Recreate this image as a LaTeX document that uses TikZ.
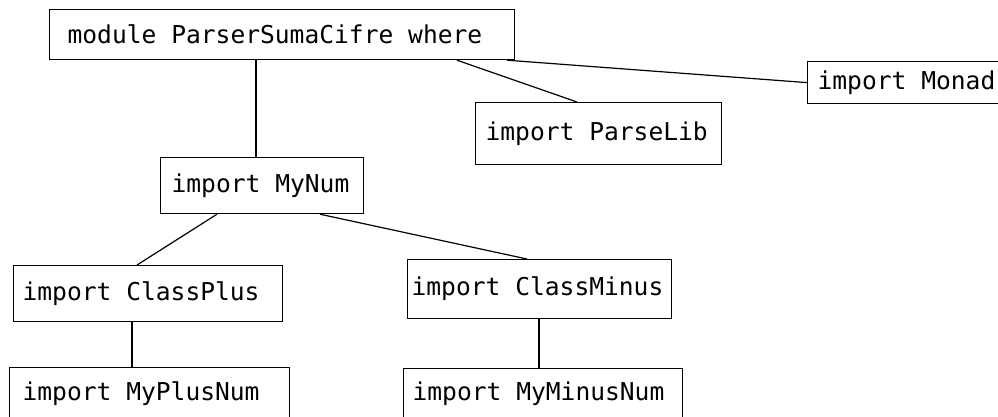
\documentclass[tikz,border=0pt]{standalone}
\usepackage{fontspec}
\setmonofont{DejaVu Sans Mono}

\begin{document}
\begin{tikzpicture}[x=1pt, y=-1pt, line width=1.2pt,
    modbox/.style={draw, anchor=north west, align=flush left, inner ysep=0pt,
                   font=\ttfamily\fontsize{24.6}{28}\selectfont}]
    \useasboundingbox (0,0) rectangle (998,416);

    % Module boxes
    \node[modbox, text width=429pt, inner xsep=18pt, minimum height=50pt] (parser) at (49,9) {module ParserSumaCifre where};
    \node[modbox, text width=190pt, inner xsep=10pt, minimum height=42pt] (monad) at (807,61) {import Monad};
    \node[modbox, text width=226pt, inner xsep=10pt, minimum height=62pt] (parselib) at (475,102) {import ParseLib};
    \node[modbox, text width=181pt, inner xsep=11pt, minimum height=56pt] (mynum) at (160,157) {import MyNum};
    \node[modbox, text width=251pt, inner xsep=9pt, minimum height=56pt] (classplus) at (13,265) {import ClassPlus};
    \node[modbox, text width=256pt, inner xsep=4pt, minimum height=59pt] (classminus) at (407,259) {import ClassMinus};
    \node[modbox, text width=254pt, inner xsep=13pt, minimum height=52pt] (myplusnum) at (9,367) {import MyPlusNum};
    \node[modbox, text width=261pt, inner xsep=9pt, minimum height=50pt] (myminusnum) at (403,368) {import MyMinusNum};

    % Imports
    \draw ([xshift=207pt]parser.south west) -- ([xshift=96pt]mynum.north west);
    \draw ([xshift=408pt]parser.south west) -- ([xshift=102pt]parselib.north west);
    \draw ([xshift=458pt]parser.south west) -- (monad.west);
    \draw ([xshift=57pt]mynum.south west) -- ([xshift=124pt]classplus.north west);
    \draw ([xshift=160pt]mynum.south west) -- ([xshift=120pt]classminus.north west);
    \draw ([xshift=119pt]classplus.south west) -- ([xshift=123pt]myplusnum.north west);
    \draw ([xshift=132pt]classminus.south west) -- ([xshift=136pt]myminusnum.north west);
\end{tikzpicture}
\end{document}
